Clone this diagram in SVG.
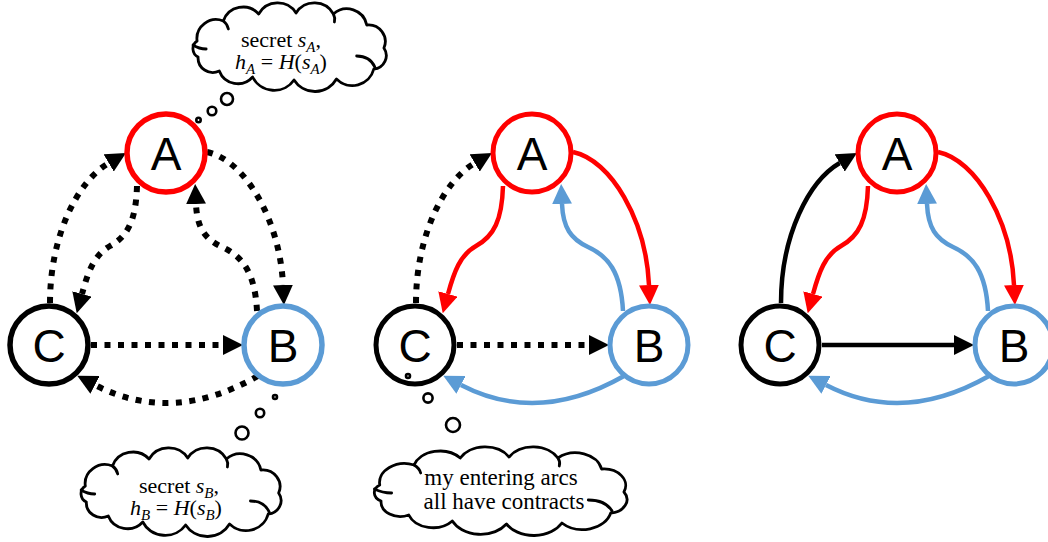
<svg xmlns="http://www.w3.org/2000/svg" xmlns:xlink="http://www.w3.org/1999/xlink" width="1048" height="542" viewBox="0 0 1048 542">
  <defs>
    <style>
      .ring { fill: #fff; stroke-width: 5; }
      .p1 .ring { stroke-width: 5.5; }
      .red { stroke: #FF0000; }
      .blue { stroke: #5B9BD5; }
      .blk { stroke: #000; }
      .lbl { font-family: "Liberation Sans", Arial, sans-serif; font-size: 46px; text-anchor: middle; fill: #000; }
      .dot { fill: none; stroke: #000; stroke-width: 6; stroke-dasharray: 6 7.5; }
      .solid { fill: none; stroke-width: 4.5; }
      .bub { fill: #fff; stroke: #000; stroke-width: 2.6; }
      .txt { font-family: "Liberation Serif", "Times New Roman", serif; font-size: 22px; text-anchor: middle; fill: #000; }
      .it { font-style: italic; }
      .sub { font-style: italic; font-size: 15px; }
    </style>
    <marker id="ah-k" viewBox="0 0 20 20" refX="0" refY="10" markerWidth="20" markerHeight="20" markerUnits="userSpaceOnUse" orient="auto">
      <path d="M0,0 L20,10 L0,20 Z" fill="#000"/>
    </marker>
    <marker id="ah-r" viewBox="0 0 20 20" refX="0" refY="10" markerWidth="20" markerHeight="20" markerUnits="userSpaceOnUse" orient="auto">
      <path d="M0,0 L20,10 L0,20 Z" fill="#FF0000"/>
    </marker>
    <marker id="ah-b" viewBox="0 0 20 20" refX="0" refY="10" markerWidth="20" markerHeight="20" markerUnits="userSpaceOnUse" orient="auto">
      <path d="M0,0 L20,10 L0,20 Z" fill="#5B9BD5"/>
    </marker>
    <!-- scalloped thought cloud, centred on the origin -->
    <g id="cloud">
      <path vector-effect="non-scaling-stroke" fill="#fff" stroke="#000" stroke-width="2.8" stroke-linejoin="round"
            d="M-93,-7 A19,19 0 0 1 -67,-27 A20.7,20.7 0 0 1 -32,-34 A21.5,21.5 0 0 1 5,-35 A21.5,21.5 0 0 1 42,-34 A20,20 0 0 1 75,-23 A16.6,16.6 0 0 1 92,0 A13.5,13.5 0 0 1 82,21 A22,22 0 0 1 45,31 A24.4,24.4 0 0 1 3,32 A23.8,23.8 0 0 1 -38,29 A19.5,19.5 0 0 1 -71,23 A14.6,14.6 0 0 1 -92,9 A9.3,9.3 0 0 1 -93,-7 Z"/>
      <g fill="none" stroke="#000" stroke-width="2.8" stroke-linecap="round">
        <path vector-effect="non-scaling-stroke" d="M-97,-3 Q-91,1 -84,1"/>
        <path vector-effect="non-scaling-stroke" d="M65,8 Q78,8 83,19"/>
        <path vector-effect="non-scaling-stroke" d="M-67,-27 Q-63,-24 -62,-19"/>
        <path vector-effect="non-scaling-stroke" d="M42,-34 Q44,-30 43,-26"/>
      </g>
    </g>
  </defs>

  <rect width="1048" height="542" fill="#fff"/>

  <!-- arcs between the parties, one group per panel -->
  <g id="connectors">
    <g id="edges-1">
      <path class="dot" marker-end="url(#ah-k)" d="M50,303 C50,235 78,181 108.7,163"/>
      <path class="dot" marker-end="url(#ah-k)" d="M207,152 C245,160 280,220 283,285"/>
      <path class="dot" marker-end="url(#ah-k)" d="M137,186 C136,220 128,236 110,246 C94,255 88,272 82,294"/>
      <path class="dot" marker-end="url(#ah-k)" d="M257,311 C255,272 242,256 222,247 C205,239 197,228 196,204"/>
      <path class="dot" marker-end="url(#ah-k)" d="M91,345 L223,345"/>
      <path class="dot" marker-end="url(#ah-k)" d="M258,376 Q172,425 95,385"/>
    </g>
    <g id="edges-2" transform="translate(366,0)">
      <path class="dot" marker-end="url(#ah-k)" d="M50,303 C50,235 78,181 108.7,163"/>
      <path class="solid red" marker-end="url(#ah-r)" d="M207,152 C245,160 280,220 283,285"/>
      <path class="solid red" marker-end="url(#ah-r)" d="M137,186 C136,220 128,236 110,246 C94,255 88,272 82,294"/>
      <path class="solid blue" marker-end="url(#ah-b)" d="M257,311 C255,272 242,256 222,247 C205,239 197,228 196,204"/>
      <path class="dot" marker-end="url(#ah-k)" d="M91,345 L223,345"/>
      <path class="solid blue" marker-end="url(#ah-b)" d="M258,376 Q172,425 95,385"/>
    </g>
    <g id="edges-3" transform="translate(731,0)">
      <path class="solid blk" marker-end="url(#ah-k)" d="M50,303 C50,235 78,181 108.7,163"/>
      <path class="solid red" marker-end="url(#ah-r)" d="M207,152 C245,160 280,220 283,285"/>
      <path class="solid red" marker-end="url(#ah-r)" d="M137,186 C136,220 128,236 110,246 C94,255 88,272 82,294"/>
      <path class="solid blue" marker-end="url(#ah-b)" d="M257,311 C255,272 242,256 222,247 C205,239 197,228 196,204"/>
      <path class="solid blk" marker-end="url(#ah-k)" d="M91,345 L223,345"/>
      <path class="solid blue" marker-end="url(#ah-b)" d="M258,376 Q172,425 95,385"/>
    </g>
  </g>

  <!-- panel 1 parties -->
  <g class="p1">
    <g id="p1-A"><circle class="ring red" cx="166" cy="153" r="39"/><text class="lbl" x="166" y="170">A</text></g>
    <g id="p1-B"><circle class="ring blue" cx="283" cy="345" r="39"/><text class="lbl" x="283" y="362">B</text></g>
    <g id="p1-C"><circle class="ring blk" cx="49" cy="345" r="39"/><text class="lbl" x="49" y="362">C</text></g>
  </g>
  <!-- panel 2 parties -->
  <g class="p2">
    <g id="p2-A"><circle class="ring red" cx="532" cy="153" r="39"/><text class="lbl" x="532" y="170">A</text></g>
    <g id="p2-B"><circle class="ring blue" cx="649" cy="345" r="39"/><text class="lbl" x="649" y="362">B</text></g>
    <g id="p2-C"><circle class="ring blk" cx="415" cy="345" r="39"/><text class="lbl" x="415" y="362">C</text></g>
  </g>
  <!-- panel 3 parties -->
  <g class="p3">
    <g id="p3-A"><circle class="ring red" cx="897" cy="153" r="39"/><text class="lbl" x="897" y="170">A</text></g>
    <g id="p3-B"><circle class="ring blue" cx="1014" cy="345" r="39"/><text class="lbl" x="1014" y="362">B</text></g>
    <g id="p3-C"><circle class="ring blk" cx="780" cy="345" r="39"/><text class="lbl" x="780" y="362">C</text></g>
  </g>

  <!-- thought bubbles -->
  <g id="thought-A">
    <circle class="bub" cx="198.5" cy="120" r="2.2"/>
    <circle class="bub" cx="212" cy="111" r="4.3"/>
    <circle class="bub" cx="227" cy="99" r="6"/>
    <use xlink:href="#cloud" href="#cloud" transform="translate(291,48) scale(1.01,1)"/>
    <text class="txt" x="281" y="47">secret <tspan class="it">s</tspan><tspan class="sub" dy="5">A</tspan><tspan dy="-5">,</tspan></text>
    <text class="txt" x="281" y="69"><tspan class="it">h</tspan><tspan class="sub" dy="5">A</tspan><tspan dy="-5"> = </tspan><tspan class="it">H</tspan>(<tspan class="it">s</tspan><tspan class="sub" dy="5">A</tspan><tspan dy="-5">)</tspan></text>
  </g>
  <g id="thought-B">
    <circle class="bub" cx="275" cy="397" r="2"/>
    <circle class="bub" cx="260" cy="413" r="4.2"/>
    <circle class="bub" cx="242" cy="433" r="6.5"/>
    <use xlink:href="#cloud" href="#cloud" transform="translate(182.5,493) scale(1.045,1)"/>
    <text class="txt" x="179" y="493">secret <tspan class="it">s</tspan><tspan class="sub" dy="5">B</tspan><tspan dy="-5">,</tspan></text>
    <text class="txt" x="176" y="515"><tspan class="it">h</tspan><tspan class="sub" dy="5">B</tspan><tspan dy="-5"> = </tspan><tspan class="it">H</tspan>(<tspan class="it">s</tspan><tspan class="sub" dy="5">B</tspan><tspan dy="-5">)</tspan></text>
  </g>
  <g id="thought-C">
    <circle class="bub" cx="408" cy="376" r="2"/>
    <circle class="bub" cx="428" cy="398" r="4.6"/>
    <circle class="bub" cx="453" cy="425" r="7"/>
    <use xlink:href="#cloud" href="#cloud" transform="translate(502.5,492) scale(1.32,1)"/>
    <text class="txt" style="font-size:23px" x="501" y="485">my entering arcs</text>
    <text class="txt" style="font-size:23px" x="504" y="509">all have contracts</text>
  </g>
</svg>
